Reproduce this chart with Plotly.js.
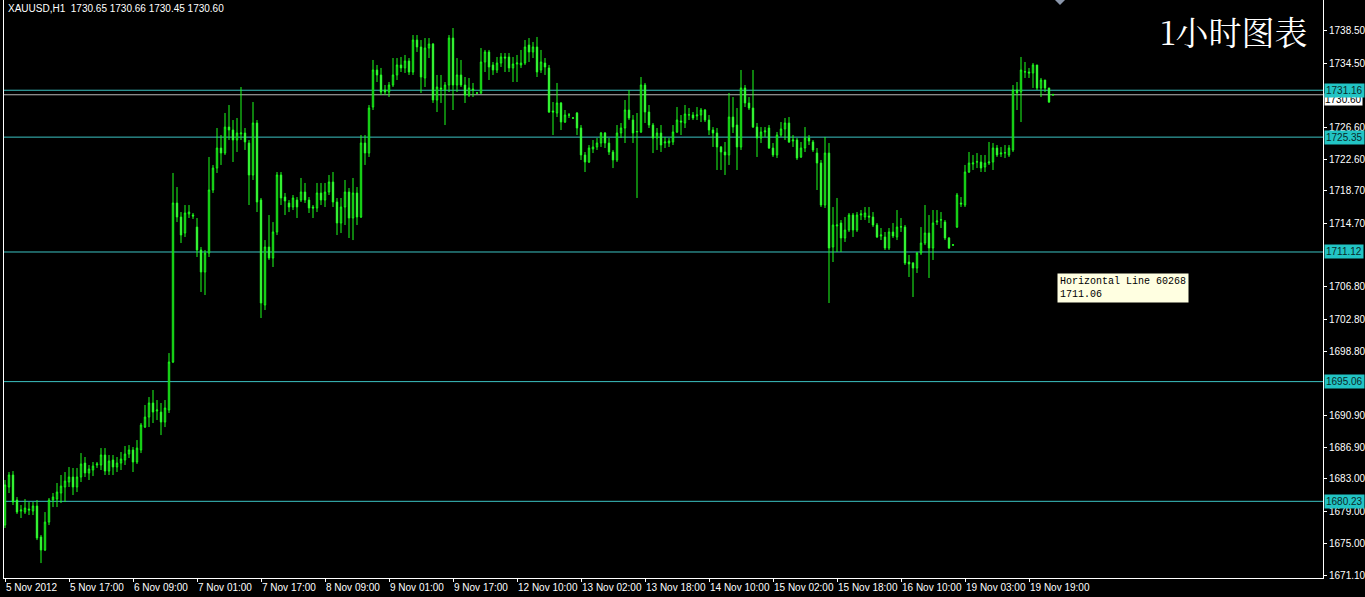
<!DOCTYPE html>
<html>
<head>
<meta charset="utf-8">
<script src="https://cdn.plot.ly/plotly-3.0.1.min.js"></script>
<style>
html,body{margin:0;padding:0;background:#000;}
#chart{width:1365px;height:597px;}
</style>
</head>
<body>
<div id="chart"></div>
<script>
// XAUUSD H1 candles
var openP = [
1677.29,1682.00,1683.49,1680.39,1679.03,1678.90,1679.28,1679.03,1679.65,1675.81,
1674.20,1677.66,1680.39,1680.51,1681.26,1682.00,1682.62,1683.24,1682.00,1683.24,
1684.97,1683.74,1684.11,1684.73,1684.73,1685.97,1683.98,1685.35,1684.48,1684.97,
1685.35,1686.09,1686.59,1685.10,1686.59,1689.43,1690.67,1692.41,1691.42,1691.29,
1690.05,1691.54,1697.49,1717.19,1715.45,1713.47,1715.83,1715.70,1714.21,1711.37,
1708.64,1710.99,1718.80,1721.52,1724.00,1723.38,1726.60,1726.23,1724.99,1725.74,
1725.86,1724.62,1720.66,1727.10,1717.56,1704.55,1711.74,1710.37,1713.60,1720.66,
1717.93,1717.19,1716.69,1717.56,1717.56,1718.55,1717.56,1716.69,1716.57,1718.43,
1717.56,1718.55,1719.79,1717.31,1714.71,1716.69,1718.55,1715.33,1718.43,1715.45,
1724.62,1723.38,1729.08,1733.67,1733.05,1731.19,1730.94,1731.81,1733.05,1734.29,
1733.92,1734.78,1733.42,1737.38,1736.52,1732.68,1736.39,1736.89,1729.95,1731.44,
1731.19,1731.81,1737.63,1731.81,1733.05,1731.81,1730.57,1731.31,1730.82,1730.82,
1734.66,1735.90,1734.29,1733.67,1734.53,1735.28,1735.28,1733.92,1734.41,1734.29,
1734.53,1736.76,1735.90,1736.52,1733.67,1734.53,1733.92,1728.59,1728.34,1729.58,
1727.22,1728.09,1727.72,1728.34,1726.48,1723.14,1722.27,1723.88,1724.13,1724.62,
1725.86,1724.62,1723.51,1722.52,1725.86,1726.48,1728.71,1727.47,1725.99,1725.99,
1731.81,1728.46,1726.85,1725.24,1725.86,1724.62,1724.62,1724.75,1725.99,1727.35,
1727.10,1728.09,1728.09,1727.97,1728.09,1728.71,1727.47,1726.23,1725.86,1724.13,
1723.51,1723.14,1727.84,1726.85,1724.13,1731.44,1729.58,1728.96,1726.60,1725.24,
1725.99,1726.48,1724.00,1723.14,1725.61,1726.36,1727.10,1724.87,1724.99,1722.89,
1724.00,1725.24,1724.75,1723.38,1722.14,1716.94,1723.38,1711.74,1714.34,1714.71,
1712.85,1713.84,1715.70,1713.84,1715.70,1715.45,1715.58,1715.45,1714.46,1713.10,
1712.98,1711.61,1713.60,1712.98,1714.21,1714.21,1709.88,1709.75,1709.13,1710.99,
1712.23,1713.47,1711.61,1714.83,1715.08,1714.83,1712.85,1711.98,1714.21,1717.19,
1716.94,1721.03,1722.02,1722.27,1722.27,1721.65,1722.14,1722.27,1724.00,1723.26,
1723.38,1723.14,1723.76,1731.19,1730.94,1733.42,1733.42,1733.30,1734.29,1731.44,
1732.43,1731.44,1730.65
];
var highP = [
1682.87,1683.86,1683.98,1680.76,1679.77,1680.51,1680.14,1680.14,1680.39,1676.05,
1678.90,1680.64,1681.26,1682.50,1683.49,1683.86,1684.48,1684.36,1684.36,1686.21,
1685.72,1684.73,1685.10,1685.10,1686.83,1686.83,1685.97,1685.97,1685.72,1686.34,
1687.08,1687.20,1686.96,1687.82,1689.93,1692.16,1693.15,1694.02,1692.78,1692.41,
1692.78,1698.60,1720.91,1719.17,1716.07,1716.94,1716.94,1715.95,1715.33,1711.74,
1711.37,1722.89,1721.90,1726.48,1725.61,1728.34,1729.33,1727.47,1727.72,1731.56,
1726.48,1724.99,1729.70,1727.47,1717.81,1712.60,1715.70,1714.83,1721.03,1721.03,
1718.43,1717.56,1718.18,1717.93,1720.29,1719.67,1717.93,1716.94,1719.67,1719.67,
1719.67,1720.66,1721.03,1717.81,1717.81,1720.04,1719.05,1720.29,1719.17,1725.61,
1725.61,1729.33,1734.91,1734.29,1733.92,1731.81,1732.18,1735.15,1735.15,1735.28,
1735.53,1735.15,1738.00,1738.00,1737.38,1737.63,1737.63,1737.01,1733.05,1733.05,
1732.18,1738.00,1738.87,1735.15,1734.91,1732.80,1732.68,1732.06,1730.94,1736.39,
1736.15,1736.15,1734.66,1735.28,1735.77,1735.77,1735.77,1735.28,1735.53,1736.15,
1737.38,1737.63,1737.14,1737.76,1736.15,1735.15,1734.29,1729.70,1732.06,1729.70,
1728.71,1728.34,1727.84,1728.46,1726.85,1723.51,1724.37,1724.99,1725.24,1725.99,
1725.99,1725.24,1723.76,1726.85,1727.10,1729.95,1731.19,1728.09,1728.34,1732.80,
1732.06,1729.33,1727.10,1726.48,1726.85,1725.37,1725.24,1726.85,1729.08,1728.09,
1729.33,1728.96,1728.46,1729.08,1728.96,1728.83,1728.09,1726.60,1726.48,1724.25,
1724.75,1730.82,1730.32,1728.96,1733.67,1731.81,1730.32,1733.67,1727.10,1726.60,
1726.60,1726.85,1724.62,1725.99,1727.22,1727.72,1727.84,1725.61,1725.24,1724.75,
1726.60,1725.61,1724.99,1724.00,1722.52,1725.37,1724.62,1716.69,1717.81,1715.08,
1715.45,1715.95,1715.95,1716.07,1716.32,1716.69,1716.69,1716.07,1714.71,1714.09,
1713.60,1714.09,1714.71,1716.32,1715.33,1714.46,1710.75,1709.88,1711.12,1714.21,
1716.94,1715.70,1716.32,1716.32,1716.07,1715.08,1712.98,1712.11,1718.43,1717.93,
1721.90,1723.51,1723.14,1723.38,1723.14,1723.14,1724.75,1724.62,1724.37,1724.13,
1724.37,1724.37,1731.81,1732.18,1735.28,1734.66,1733.92,1734.53,1734.29,1732.68,
1732.43,1731.44,1730.66
];
var lowP = [
1676.92,1681.26,1679.77,1678.66,1678.16,1678.66,1678.53,1678.53,1675.43,1672.58,
1674.07,1677.29,1679.52,1679.52,1680.02,1680.14,1682.00,1681.01,1681.38,1682.62,
1683.24,1682.87,1683.36,1684.36,1684.11,1683.49,1683.49,1683.49,1683.86,1684.11,
1684.73,1685.59,1683.86,1684.85,1686.21,1689.31,1689.43,1689.93,1690.30,1688.44,
1689.43,1691.17,1697.36,1714.83,1712.23,1712.98,1715.33,1715.21,1710.50,1706.16,
1705.79,1710.50,1718.43,1720.91,1721.90,1723.14,1724.99,1722.27,1723.51,1724.99,
1723.76,1716.94,1720.04,1716.07,1702.94,1703.93,1710.13,1709.26,1713.22,1716.94,
1715.70,1716.07,1716.32,1715.33,1717.31,1717.19,1715.95,1715.33,1716.07,1716.94,
1716.69,1718.18,1716.69,1713.22,1713.47,1714.46,1712.85,1712.60,1714.46,1715.33,
1721.90,1722.89,1728.71,1732.18,1730.57,1730.57,1730.32,1731.56,1732.43,1733.42,
1733.30,1733.05,1733.05,1735.90,1730.82,1731.56,1735.15,1729.58,1728.46,1729.58,
1726.85,1730.94,1728.71,1730.94,1731.56,1729.58,1730.32,1730.32,1730.69,1730.69,
1733.42,1732.43,1733.05,1733.30,1734.04,1733.42,1733.42,1732.18,1732.18,1733.92,
1734.29,1734.66,1735.15,1732.80,1733.30,1733.05,1728.34,1725.61,1727.84,1726.23,
1727.10,1727.72,1727.60,1725.61,1722.52,1721.03,1722.14,1723.38,1723.76,1724.13,
1724.00,1723.14,1721.52,1722.27,1725.24,1724.62,1727.47,1724.62,1717.81,1725.86,
1727.10,1726.48,1723.38,1723.76,1723.51,1724.00,1724.13,1724.37,1725.86,1725.61,
1726.48,1727.47,1727.47,1727.47,1727.22,1727.22,1725.61,1724.13,1721.28,1721.28,
1720.66,1721.90,1725.86,1721.28,1723.76,1729.08,1728.71,1726.48,1722.89,1724.62,
1725.37,1723.88,1722.89,1722.76,1725.37,1724.99,1724.62,1724.13,1722.52,1722.76,
1723.51,1724.37,1723.51,1718.80,1716.69,1716.57,1704.80,1709.88,1711.12,1711.12,
1712.36,1713.60,1712.98,1713.60,1715.08,1715.08,1714.71,1714.21,1712.85,1712.60,
1711.37,1711.37,1712.85,1712.60,1713.60,1709.51,1708.02,1705.54,1708.52,1710.75,
1711.98,1707.90,1710.13,1714.46,1714.09,1712.60,1711.49,1711.86,1714.09,1716.69,
1716.69,1720.91,1721.28,1721.52,1721.03,1721.03,1721.90,1721.28,1722.89,1722.89,
1722.76,1722.89,1723.51,1728.71,1727.22,1732.68,1732.68,1731.44,1731.19,1730.32,
1730.94,1729.58,1730.45
];
var closeP = [
1682.25,1683.49,1680.14,1678.90,1679.15,1679.40,1679.15,1679.65,1675.68,1674.20,
1677.66,1680.39,1680.76,1681.38,1682.12,1682.74,1683.24,1682.00,1683.24,1684.85,
1683.74,1684.23,1684.60,1684.85,1685.97,1683.98,1685.22,1684.48,1684.97,1685.47,
1686.09,1686.59,1685.10,1686.83,1689.68,1690.67,1692.41,1691.29,1691.54,1690.05,
1691.79,1697.49,1717.19,1715.45,1713.22,1715.95,1716.07,1715.58,1711.37,1708.64,
1710.99,1718.80,1721.52,1724.00,1723.38,1726.60,1726.23,1724.99,1725.86,1725.86,
1724.75,1720.66,1727.10,1717.31,1704.80,1711.74,1710.37,1713.60,1720.66,1717.81,
1717.44,1716.69,1717.81,1716.69,1718.55,1717.56,1716.57,1716.57,1718.43,1717.56,
1718.55,1719.79,1717.31,1714.71,1716.69,1718.55,1715.33,1718.43,1715.45,1724.62,
1723.38,1728.96,1733.67,1733.05,1730.94,1730.94,1731.81,1733.05,1734.29,1733.92,
1734.78,1733.42,1737.38,1736.52,1732.80,1736.39,1736.89,1729.95,1731.56,1731.31,
1731.81,1737.63,1731.81,1733.05,1731.81,1730.57,1731.44,1731.19,1730.82,1734.66,
1735.90,1734.04,1733.67,1734.53,1735.28,1735.15,1733.92,1734.41,1734.53,1734.53,
1736.52,1735.90,1736.52,1733.42,1734.66,1734.04,1728.46,1728.46,1729.58,1727.22,
1728.09,1728.09,1727.72,1726.48,1723.14,1722.27,1724.00,1724.13,1724.62,1725.86,
1724.62,1723.51,1722.52,1725.86,1726.48,1728.71,1727.72,1725.86,1726.05,1731.81,
1728.46,1726.85,1725.24,1725.86,1724.37,1724.75,1724.87,1725.99,1727.47,1727.22,
1728.22,1728.12,1727.72,1728.09,1728.71,1727.47,1726.23,1725.86,1724.13,1723.51,
1723.14,1727.84,1726.60,1724.13,1731.44,1729.58,1728.96,1726.60,1725.24,1725.99,
1726.11,1724.00,1723.14,1725.61,1726.36,1727.10,1724.75,1724.99,1722.76,1724.00,
1725.24,1724.87,1723.76,1722.14,1716.94,1723.38,1711.61,1714.46,1714.46,1712.85,
1713.84,1715.70,1713.84,1715.70,1715.83,1715.95,1715.45,1714.46,1712.98,1713.22,
1711.61,1713.60,1713.10,1714.21,1714.25,1709.75,1709.63,1709.13,1710.99,1712.23,
1713.47,1711.61,1714.71,1714.96,1715.12,1712.85,1711.61,1712.00,1718.18,1717.06,
1721.03,1722.14,1722.14,1722.30,1721.52,1722.14,1722.27,1724.00,1723.14,1723.38,
1723.42,1724.00,1731.19,1730.82,1733.67,1733.45,1733.30,1734.29,1731.44,1732.43,
1731.44,1729.70,1730.60
];

// time axis labels (every 16 bars)
var timeTickBars = [0,16,32,48,64,80,96,112,128,144,160,176,192,208,224,240,256];
var timeTickText = ["5 Nov 2012","5 Nov 17:00","6 Nov 09:00","7 Nov 01:00","7 Nov 17:00",
  "8 Nov 09:00","9 Nov 01:00","9 Nov 17:00","12 Nov 10:00","13 Nov 02:00","13 Nov 18:00",
  "14 Nov 10:00","15 Nov 02:00","15 Nov 18:00","16 Nov 10:00","19 Nov 03:00","19 Nov 19:00"];

// price axis labels
var priceTicks = [1738.50,1734.50,1726.60,1722.60,1718.70,1714.70,1706.80,1702.80,1698.80,1690.90,1686.90,1683.00,1679.00,1675.00,1671.10];
var priceTickText = ["1738.50","1734.50","1726.60","1722.60","1718.70","1714.70","1706.80","1702.80","1698.80","1690.90","1686.90","1683.00","1679.00","1675.00","1671.10"];

// horizontal lines drawn on the chart
var hLines = [1731.16, 1725.35, 1711.12, 1695.06, 1680.23];
var bidPrice = 1730.60;
var header = "XAUUSD,H1\u00a0\u00a01730.65 1730.66 1730.45 1730.60";
var chartTitle = "1小时图表";
var tipText = "Horizontal Line 60268<br>1711.06";

var barIdx = openP.map(function(_, i){ return i; });
var GREEN = '#1cff1c';
var CYAN = '#3cc3c3';
var axisFont = {family:'"Liberation Sans", Arial, sans-serif', size:10, color:'#ffffff'};

var trace = {
  type:'candlestick',
  x: barIdx, open: openP, high: highP, low: lowP, close: closeP,
  increasing:{line:{color:GREEN, width:1}, fillcolor:'#000000'},
  decreasing:{line:{color:GREEN, width:1}, fillcolor:'#d6ffd6'},
  whiskerwidth:0,
  hoverinfo:'skip'
};

var shapes = [];
shapes.push({type:'line', xref:'paper', x0:0, x1:1, yref:'y', y0:bidPrice, y1:bidPrice,
  line:{color:'#b8b8b8', width:1}, layer:'below'});
hLines.forEach(function(p){
  shapes.push({type:'line', xref:'paper', x0:0, x1:1, yref:'y', y0:p, y1:p,
    line:{color:CYAN, width:1}, layer:'below'});
});
// chart shift marker
shapes.push({type:'path', xref:'paper', yref:'paper',
  path:'M 0.7968 1.0 L 0.8044 1.0 L 0.8006 0.9913 Z', fillcolor:'#8a96aa', line:{width:0}});

var annotations = [];
annotations.push({xref:'paper', yref:'y', x:1, y:bidPrice, xanchor:'left', yanchor:'top',
  xshift:1, yshift:2, text:'1730.60', showarrow:false, bgcolor:'#ffffff',
  font:{family:axisFont.family, size:10, color:'#000000'}, borderpad:0});
hLines.forEach(function(p){
  annotations.push({xref:'paper', yref:'y', x:1, y:p, xanchor:'left', yanchor:'middle',
    xshift:1, text:p.toFixed(2), showarrow:false, bgcolor:'#22c4c4',
    font:{family:axisFont.family, size:10, color:'#0a2a2a'}, borderpad:1});
});
annotations.push({xref:'paper', yref:'paper', x:0.0015, y:0.986, xanchor:'left', yanchor:'middle',
  text:header, showarrow:false, font:axisFont});
annotations.push({xref:'paper', yref:'paper', x:0.9905, y:0.948, xanchor:'right', yanchor:'middle',
  text:chartTitle, showarrow:false,
  font:{family:'"Noto Serif CJK SC","Noto Sans CJK SC",serif', size:33, color:'#ffffff'}});
annotations.push({xref:'paper', yref:'paper', x:0.7983, y:0.5277, xanchor:'left', yanchor:'top',
  text:tipText, align:'left', showarrow:false, bgcolor:'#ffffe1', borderpad:2,
  font:{family:'"Liberation Mono","DejaVu Sans Mono",monospace', size:10, color:'#000000'}});

var layout = {
  width:1365, height:597,
  paper_bgcolor:'#000000', plot_bgcolor:'#000000',
  margin:{l:4, r:42, t:0, b:19, pad:0},
  showlegend:false,
  boxgap:0.5,
  xaxis:{
    range:[-0.25, 329.5], showgrid:false, zeroline:false,
    showline:true, linecolor:'#ffffff', linewidth:1,
    ticks:'outside', ticklen:3, tickcolor:'#ffffff',
    tickmode:'array', tickvals:timeTickBars, ticktext:timeTickText,
    tickangle:0, ticklabelposition:'outside right',
    tickfont:axisFont, rangeslider:{visible:false}, fixedrange:true
  },
  yaxis:{
    range:[1670.73, 1742.34], side:'right', showgrid:false, zeroline:false,
    showline:true, mirror:true, linecolor:'#ffffff', linewidth:1,
    ticks:'outside', ticklen:3, tickcolor:'#ffffff',
    tickmode:'array', tickvals:priceTicks, ticktext:priceTickText,
    tickfont:axisFont, fixedrange:true
  },
  shapes:shapes,
  annotations:annotations
};

Plotly.newPlot('chart', [trace], layout, {displayModeBar:false, staticPlot:true});
</script>
</body>
</html>
